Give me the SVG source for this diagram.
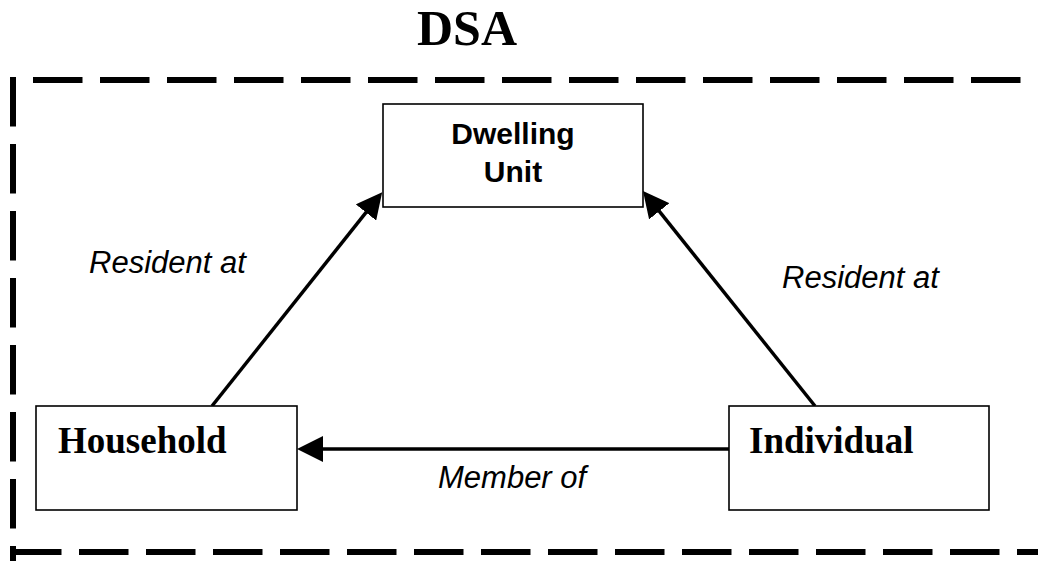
<svg xmlns="http://www.w3.org/2000/svg" width="1038" height="561" viewBox="0 0 1038 561">
  <style>
    .box { fill: #fff; stroke: #000; stroke-width: 1.6; }
    .serif { font-family: "Liberation Serif", "Times New Roman", serif; font-weight: bold; fill: #000; }
    .sans { font-family: "Liberation Sans", Arial, sans-serif; font-weight: bold; fill: #000; }
    .lbl { font-family: "Liberation Sans", Arial, sans-serif; font-style: italic; font-size: 31px; fill: #000; }
    .border { fill: none; stroke: #000; stroke-width: 6; stroke-dasharray: 49.5 17.5; }
    .conn { fill: none; stroke: #000; stroke-width: 3.5; marker-end: url(#arrow); }
  </style>
  <defs>
    <marker id="arrow" markerUnits="userSpaceOnUse" markerWidth="26" markerHeight="26" refX="18" refY="13" orient="auto" viewBox="0 0 26 26">
      <path d="M0,0 L26,13 L0,26 z" fill="#000"/>
    </marker>
  </defs>
  <rect width="1038" height="561" fill="#fff"/>

  <g id="frame">
    <text class="serif" x="417" y="45" font-size="50">DSA</text>
    <path class="border" d="M33 80 H1045"/>
    <path class="border" d="M13 77 V600"/>
    <path class="border" d="M12 552 H1045"/>
  </g>

  <g id="connectors">
    <path class="conn" d="M212 406 L377.2 198.4"/>
    <path class="conn" d="M815 406 L648 197.2"/>
    <path class="conn" d="M729 449 H305"/>
    <text class="lbl" x="89" y="273">Resident at</text>
    <text class="lbl" x="782" y="288">Resident at</text>
    <text class="lbl" x="438" y="488">Member of</text>
  </g>

  <g id="dwelling-unit">
    <rect class="box" x="383" y="104" width="260" height="103"/>
    <text class="sans" x="513" y="144" font-size="30" text-anchor="middle">Dwelling</text>
    <text class="sans" x="513" y="182" font-size="30" text-anchor="middle">Unit</text>
  </g>

  <g id="household">
    <rect class="box" x="36" y="406" width="261" height="104"/>
    <text class="serif" x="58" y="453" font-size="37">Household</text>
  </g>

  <g id="individual">
    <rect class="box" x="729" y="406" width="260" height="104"/>
    <text class="serif" x="749" y="453" font-size="37">Individual</text>
  </g>
</svg>
